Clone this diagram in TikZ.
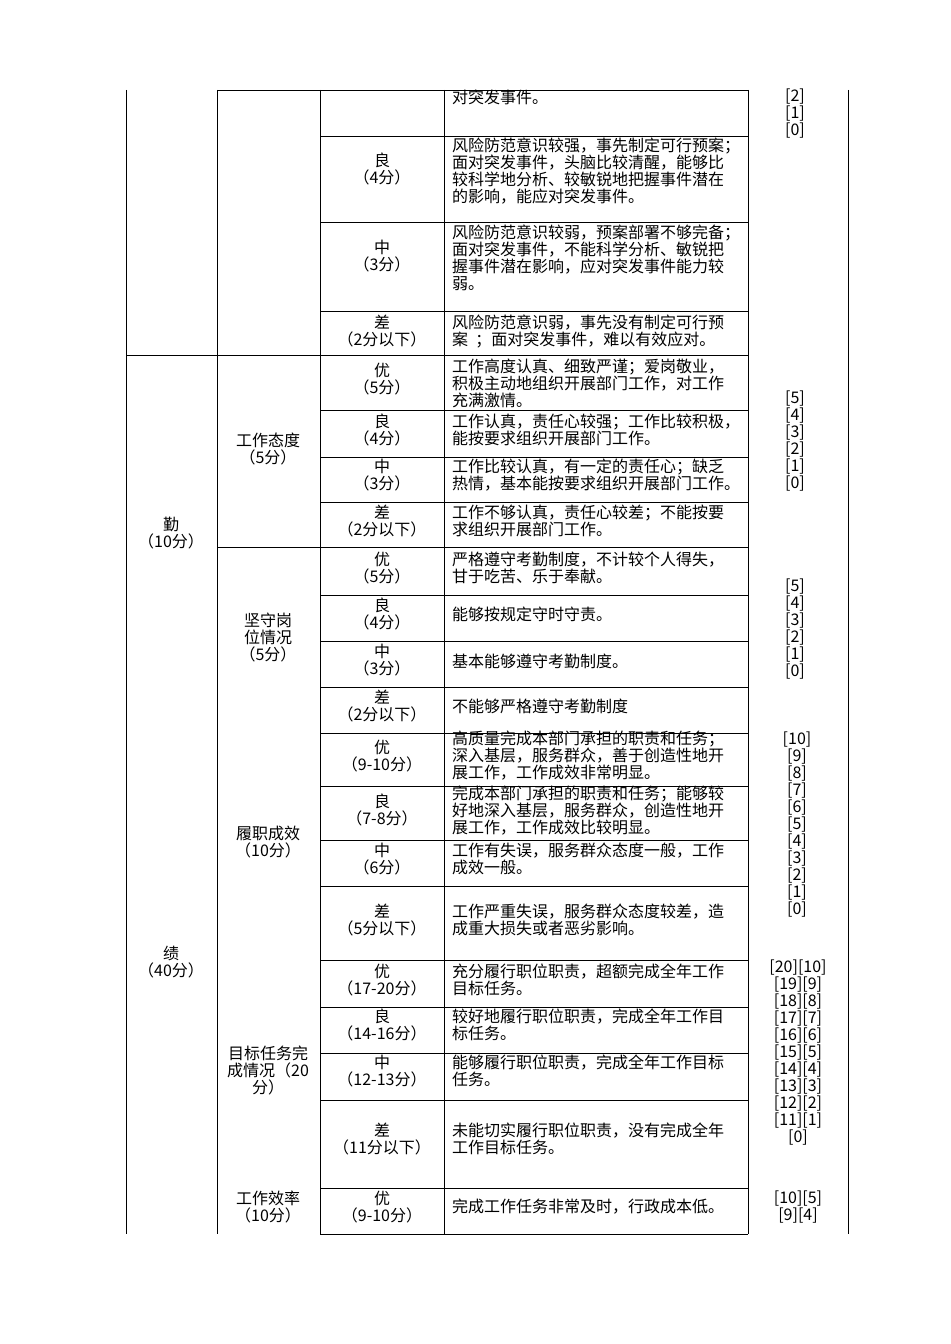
\documentclass[tikz,border=0pt]{standalone}
\usepackage{fontspec}
\setmainfont{Noto Sans CJK SC}
\usetikzlibrary{positioning}
\tikzset{
  cell/.style={inner sep=0pt, align=center, font=\fontsize{16bp}{17bp}\selectfont},
  desc/.style={inner sep=0pt, anchor=west, align=left, font=\fontsize{16bp}{17bp}\selectfont},
  grid/.style={line width=0.8pt}
}
\begin{document}
\begin{tikzpicture}[x=1bp,y=-1bp]
\useasboundingbox (0,0) rectangle (950,1344);
% frame
\draw[grid] (126,90) -- (126,1234);
\draw[grid] (217,90) -- (217,1234);
\draw[grid] (320,90) -- (320,1234);
\draw[grid] (444,90) -- (444,1234);
\draw[grid] (748,90) -- (748,1234);
\draw[grid] (848,90) -- (848,1234);
\draw[grid] (217,90) -- (748,90);
\draw[grid] (126,355) -- (748,355);
\draw[grid] (217,547) -- (748,547);
\foreach \r in {136,222,311,410,457,502,595,641,687,733,786,840,886,960,1007,1053,1100,1188,1234}
  \draw[grid] (320,\r) -- (748,\r);
% first two columns
\node[cell] (qin) at (171,533) {勤\\（10分）};
\node[cell] (ji) at (171,962) {绩\\（40分）};
\node[cell] (taidu) at (268,449) {工作态度\\（5分）};
\node[cell] (gangwei) at (268,638) {坚守岗\\位情况\\（5分）};
\node[cell] (chengxiao) at (268,842) {履职成效\\（10分）};
\node[cell] (mubiao) at (268,1070) {目标任务完\\成情况（20\\分）};
\node[cell] (xiaolv) at (268,1207) {工作效率\\（10分）};
% levels
\foreach \y/\t in {169/{良\\（4分）}, 256/{中\\（3分）}, 331/{差\\（2分以下）},
  379/{优\\（5分）}, 430/{良\\（4分）}, 475/{中\\（3分）}, 521/{差\\（2分以下）},
  568/{优\\（5分）}, 614/{良\\（4分）}, 660/{中\\（3分）}, 706/{差\\（2分以下）},
  756/{优\\（9-10分）}, 810/{良\\（7-8分）}, 859/{中\\（6分）}, 920/{差\\（5分以下）},
  980/{优\\（17-20分）}, 1025/{良\\（14-16分）}, 1071/{中\\（12-13分）}, 1139/{差\\（11分以下）},
  1207/{优\\（9-10分）}}
  \node[cell] at (382,\y) {\t};
% descriptions
\foreach \y/\t in {97/{对突发事件。},
  171/{风险防范意识较强，事先制定可行预案；\\面对突发事件，头脑比较清醒，能够比\\较科学地分析、较敏锐地把握事件潜在\\的影响，能应对突发事件。},
  258/{风险防范意识较弱，预案部署不够完备；\\面对突发事件，不能科学分析、敏锐把\\握事件潜在影响，应对突发事件能力较\\弱。},
  331/{风险防范意识弱，事先没有制定可行预\\案\ \ ；面对突发事件，难以有效应对。},
  383/{工作高度认真、细致严谨；爱岗敬业，\\积极主动地组织开展部门工作，对工作\\充满激情。},
  430/{工作认真，责任心较强；工作比较积极，\\能按要求组织开展部门工作。},
  475/{工作比较认真，有一定的责任心；缺乏\\热情，基本能按要求组织开展部门工作。},
  521/{工作不够认真，责任心较差；不能按要\\求组织开展部门工作。},
  568/{严格遵守考勤制度，不计较个人得失，\\甘于吃苦、乐于奉献。},
  614/{能够按规定守时守责。},
  661/{基本能够遵守考勤制度。},
  706/{不能够严格遵守考勤制度},
  756/{高质量完成本部门承担的职责和任务；\\深入基层，服务群众，善于创造性地开\\展工作，工作成效非常明显。},
  811/{完成本部门承担的职责和任务；能够较\\好地深入基层，服务群众，创造性地开\\展工作，工作成效比较明显。},
  859/{工作有失误，服务群众态度一般，工作\\成效一般。},
  920/{工作严重失误，服务群众态度较差，造\\成重大损失或者恶劣影响。},
  980/{充分履行职位职责，超额完成全年工作\\目标任务。},
  1025/{较好地履行职位职责，完成全年工作目\\标任务。},
  1071/{能够履行职位职责，完成全年工作目标\\任务。},
  1139/{未能切实履行职位职责，没有完成全年\\工作目标任务。},
  1207/{完成工作任务非常及时，行政成本低。}}
  \node[desc] at (452,\y) {\t};
% scores
\node[cell] (s1) at (795,114) {[2]\\{}[1]\\{}[0]};
\node[cell] (s2) at (795,441) {[5]\\{}[4]\\{}[3]\\{}[2]\\{}[1]\\{}[0]};
\node[cell] (s3) at (795,629) {[5]\\{}[4]\\{}[3]\\{}[2]\\{}[1]\\{}[0]};
\node[cell] (s4) at (797,825) {[10]\\{}[9]\\{}[8]\\{}[7]\\{}[6]\\{}[5]\\{}[4]\\{}[3]\\{}[2]\\{}[1]\\{}[0]};
\node[cell] (s5) at (798,1053) {[20][10]\\{}[19][9]\\{}[18][8]\\{}[17][7]\\{}[16][6]\\{}[15][5]\\{}[14][4]\\{}[13][3]\\{}[12][2]\\{}[11][1]\\{}[0]};
\node[cell] (s6) at (798,1207) {[10][5]\\{}[9][4]};
\end{tikzpicture}
\end{document}
